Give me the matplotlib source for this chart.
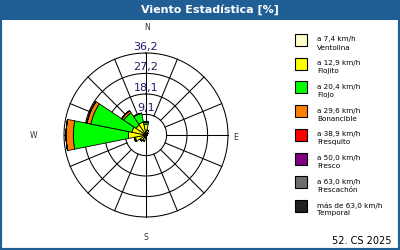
import numpy as np
import matplotlib
matplotlib.use("Agg")
import matplotlib.pyplot as plt
from matplotlib.patches import Rectangle

W_PX, H_PX = 400, 250

direcciones = ['N', 'NNE', 'NE', 'ENE', 'E', 'ESE', 'SE', 'SSE',
               'S', 'SSW', 'SW', 'WSW', 'W', 'WNW', 'NW', 'NNW']

# porcentaje por clase de velocidad y dirección
ventolina  = [0.3, 0.2, 0.1, 0.1, 0.1, 0.1, 0.1, 0.1, 0.2, 0.2, 0.2, 0.3, 0.3, 0.3, 0.3, 0.3]
flojito    = [4.5, 2.0, 1.0, 0.5, 0.4, 0.3, 0.3, 0.5, 1.0, 2.5, 3.0, 4.5, 7.5, 6.0, 5.0, 5.5]
flojo      = [1.0, 0.0, 0.0, 0.0, 0.0, 0.0, 0.0, 0.0, 0.0, 0.0, 0.0, 0.5, 24.3, 18.5, 6.5, 4.0]
bonancible = [0.0, 0.0, 0.0, 0.0, 0.0, 0.0, 0.0, 0.0, 0.0, 0.0, 0.0, 0.0, 3.2, 1.8, 1.1, 0.0]
fresquito  = [0.0] * 16
fresco     = [0.0] * 16
frescachon = [0.0] * 16
temporal   = [0.0] * 16

series = [ventolina, flojito, flojo, bonancible, fresquito, fresco, frescachon, temporal]
colores = ['#ffffc8', '#ffff00', '#00ff00', '#ff8000', '#ff0000', '#800080', '#6e6e6e', '#202020']
rangos = ['a 7,4 km/h', 'a 12,9 km/h', 'a 20,4 km/h', 'a 29,6 km/h',
          'a 38,9 km/h', 'a 50,0 km/h', 'a 63,0 km/h', 'más de 63,0 km/h']
nombres = ['Ventolina', 'Flojito', 'Flojo', 'Bonancible',
           'Fresquito', 'Fresco', 'Frescachón', 'Temporal']

anillos = [9.1, 18.1, 27.2, 36.2]
etiquetas_anillos = ['9,1', '18,1', '27,2', '36,2']

azul = '#1f5f96'

fig = plt.figure(figsize=(W_PX / 100, H_PX / 100), dpi=100)

# barra de título y marco
fig.patches.append(Rectangle((0, 1 - 20 / H_PX), 1, 20 / H_PX, transform=fig.transFigure,
                             facecolor=azul, edgecolor='none', zorder=0))
fig.patches.append(Rectangle((0, 0), 1, 1, transform=fig.transFigure, fill=False,
                             edgecolor=azul, linewidth=3, zorder=10))
fig.text(210 / W_PX, 1 - 10 / H_PX, 'Viento Estadística [%]', color='white',
         fontsize=8, fontweight='bold', ha='center', va='center')

# rosa de los vientos
cx, cy, rad = 146, 135, 82
ax = fig.add_axes([(cx - rad) / W_PX, (H_PX - cy - rad) / H_PX, 2 * rad / W_PX, 2 * rad / H_PX],
                  projection='polar')
ax.set_theta_zero_location('N')
ax.set_theta_direction(-1)
ax.set_ylim(0, anillos[-1])
ax.grid(False)
ax.set_xticks([])
ax.set_yticks([])
ax.spines['polar'].set_visible(False)
ax.patch.set_alpha(0)

t = np.linspace(0, 2 * np.pi, 361)
for r in anillos:
    ax.plot(t, [r] * len(t), color='black', lw=0.75, zorder=1, clip_on=False)

angulos = np.deg2rad(np.arange(16) * 22.5)
for i, a in enumerate(angulos):
    r0 = 0 if i in (0, 8) else anillos[0]
    ax.plot([a, a], [r0, anillos[-1]], color='black', lw=0.75, zorder=1, clip_on=False)

base = np.zeros(16)
for vals, c in zip(series, colores):
    vals = np.array(vals)
    ax.bar(angulos, vals, width=2 * np.pi / 16, bottom=base, color=c,
           edgecolor='black', linewidth=0.6, zorder=2)
    base += vals

for r, lab in zip(anillos, etiquetas_anillos):
    ax.text(0, r + 0.6, lab, ha='center', va='bottom', color='#1c1c6c',
            fontsize=8, zorder=3)

for txt, x, y in [('N', 147, 28), ('S', 146, 238), ('W', 34, 136), ('E', 236, 137)]:
    fig.text(x / W_PX, 1 - y / H_PX, txt, fontsize=5.5, color='#333333',
             ha='center', va='center')

# leyenda
for i, (c, rg, nm) in enumerate(zip(colores, rangos, nombres)):
    yc = 40 + i * 23.7
    fig.patches.append(Rectangle((295 / W_PX, 1 - (yc + 6) / H_PX), 12 / W_PX, 12 / H_PX,
                                 transform=fig.transFigure, facecolor=c,
                                 edgecolor='black', linewidth=0.8))
    fig.text(317 / W_PX, 1 - (yc - 0.5) / H_PX, rg, fontsize=5.2, ha='left', va='center')
    fig.text(317 / W_PX, 1 - (yc + 7.5) / H_PX, nm, fontsize=5.2, ha='left', va='center')

fig.text(392 / W_PX, 1 - 241 / H_PX, '52. CS 2025', fontsize=7, ha='right', va='center')

fig.savefig('out.png', dpi=100)
